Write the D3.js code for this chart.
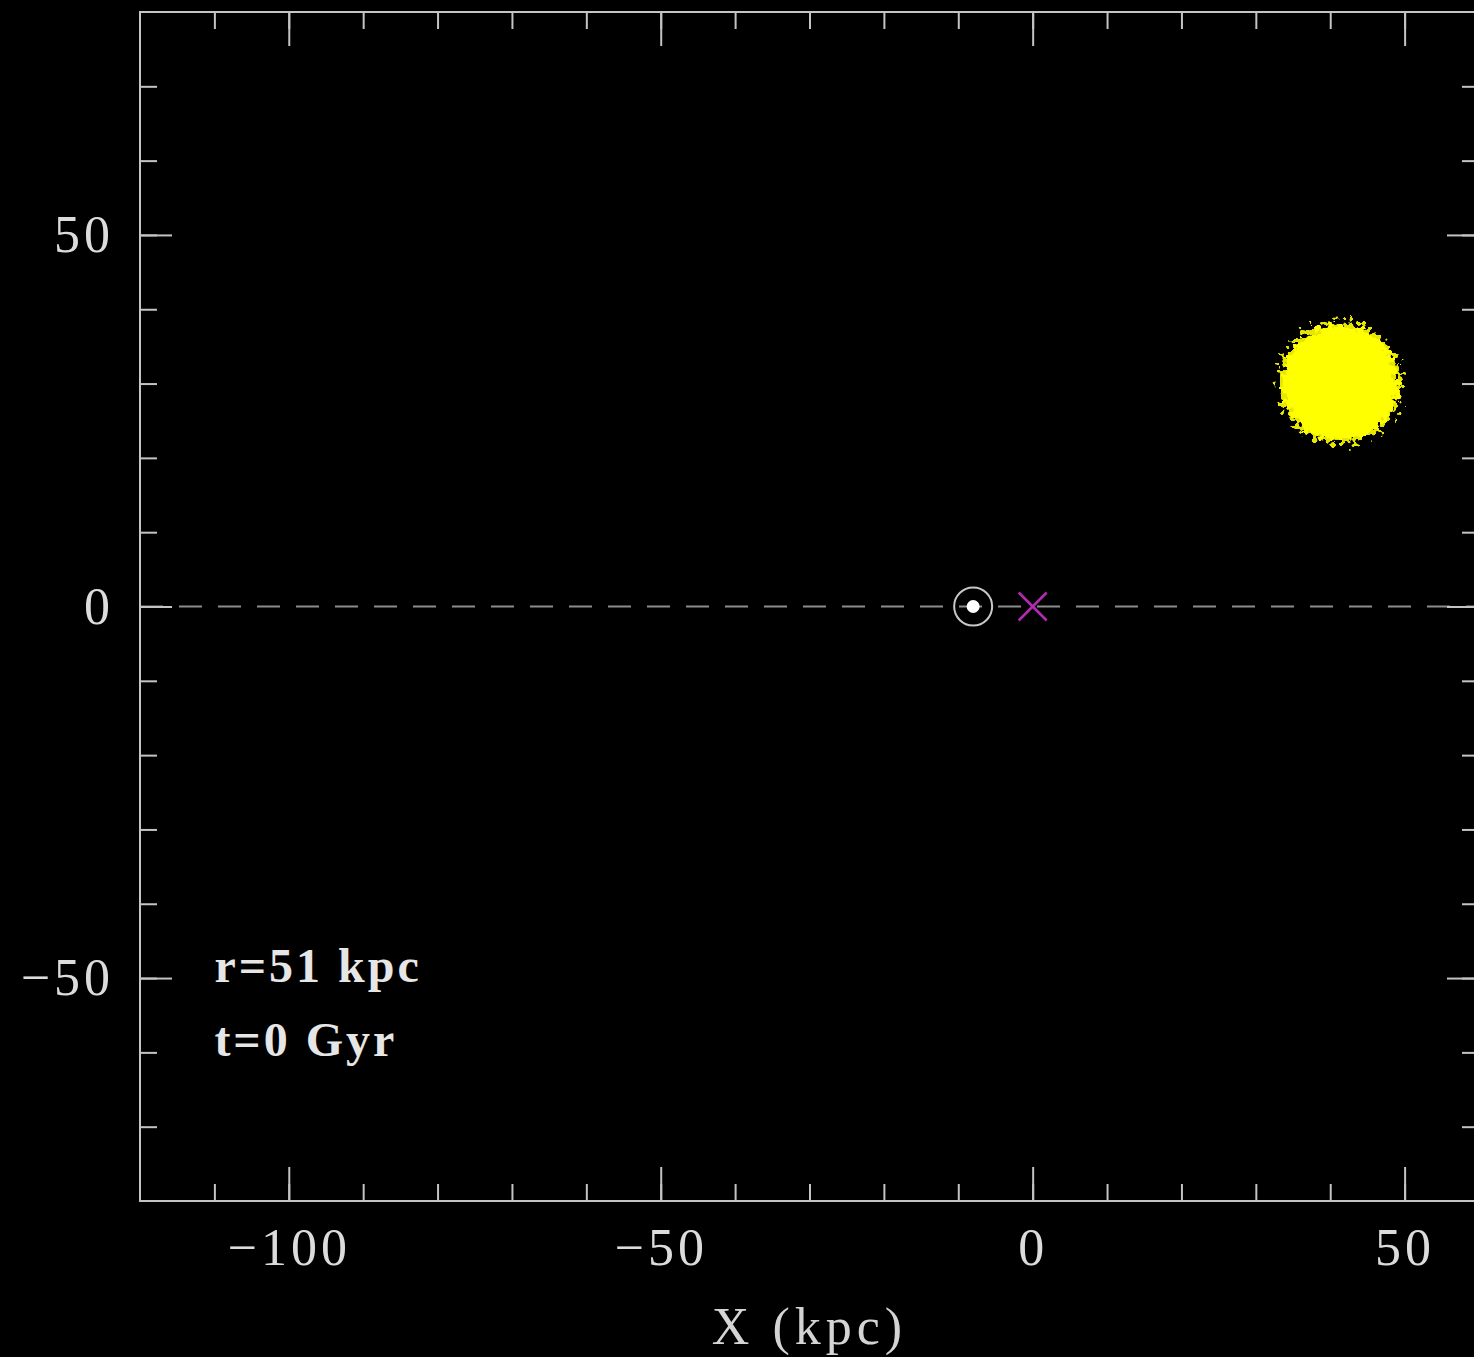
<!DOCTYPE html>
<html>
<head>
<meta charset="utf-8">
<script src="https://cdn.jsdelivr.net/npm/d3@7"></script>
<style>
  html, body { margin: 0; padding: 0; background: #000; }
  svg { display: block; }
  .axis text { font-family: "Liberation Serif", serif; font-size: 52px; fill: #dcdcdc; letter-spacing: 4px; }
  .axis line { stroke: #c4c4c4; stroke-width: 2px; }
  .axis path { display: none; }
</style>
</head>
<body>
<div class="graphContainer"></div>
<script>
// tick values (kpc)
var xMajor = [-100, -50, 0, 50];
var xMinor = [-110, -100, -90, -80, -70, -60, -50, -40, -30, -20, -10, 0, 10, 20, 30, 40, 50];
var yMajor = [-50, 0, 50];
var yMinor = [-70, -60, -50, -40, -30, -20, -10, 0, 10, 20, 30, 40, 50, 60, 70];

// objects in the plane
var sunPos = [-8, 0];
var centrePos = [0, 0];
var satellite = [41.3, 30.1];
var satelliteRadius = 7.7;

// annotation lines: x, y, text
var noteX = [-110, -110];
var noteY = [-50.5, -60.5];
var noteText = ["r=51 kpc", "t=0 Gyr"];

var xTitle = "X (kpc)";

// Set the dimensions of the canvas / graph
var W = 1474, H = 1357;
var margin = {top: 12, right: -5, bottom: 156, left: 140},
    width = W - margin.left - margin.right,
    height = H - margin.top - margin.bottom;

var x = d3.scaleLinear().domain([-120, 60]).range([0, width]);
var y = d3.scaleLinear().domain([-80, 80]).range([height, 0]);

var root = d3.select(".graphContainer")
    .append("svg")
        .attr("width", W)
        .attr("height", H);

root.append("rect").attr("width", W).attr("height", H).attr("fill", "#000");

// ragged edges for the particle cloud
var defs = root.append("defs");
var filt = defs.append("filter").attr("id", "fuzz")
    .attr("x", "-30%").attr("y", "-30%").attr("width", "160%").attr("height", "160%");
filt.append("feTurbulence").attr("type", "fractalNoise")
    .attr("baseFrequency", 0.16).attr("numOctaves", 2).attr("seed", 3).attr("result", "noise");
filt.append("feDisplacementMap").attr("in", "SourceGraphic").attr("in2", "noise")
    .attr("scale", 22).attr("xChannelSelector", "R").attr("yChannelSelector", "G");

var halo = defs.append("filter").attr("id", "halo")
    .attr("x", "-40%").attr("y", "-40%").attr("width", "180%").attr("height", "180%");
halo.append("feTurbulence").attr("type", "fractalNoise")
    .attr("baseFrequency", 0.22).attr("numOctaves", 1).attr("seed", 11).attr("result", "noise");
halo.append("feDisplacementMap").attr("in", "SourceGraphic").attr("in2", "noise")
    .attr("scale", 34).attr("xChannelSelector", "R").attr("yChannelSelector", "G");

var svg = root.append("g")
    .attr("transform", "translate(" + margin.left + "," + margin.top + ")");

// dashed line along y = 0
svg.append("line")
    .attr("x1", x(-120)).attr("x2", x(60))
    .attr("y1", y(0)).attr("y2", y(0))
    .attr("stroke", "#8c8c8c")
    .attr("stroke-width", 2)
    .attr("stroke-dasharray", "23,16");

// axes: minor ticks, then major ticks with labels
var fmt = d3.format("d");

svg.append("g").attr("class", "x axis")
    .attr("transform", "translate(0," + height + ")")
    .call(d3.axisBottom(x).tickValues(xMinor).tickSize(-17).tickSizeOuter(0).tickFormat(""));
svg.append("g").attr("class", "x axis")
    .attr("transform", "translate(0," + height + ")")
    .call(d3.axisBottom(x).tickValues(xMajor).tickSize(-34).tickSizeOuter(0).tickPadding(27).tickFormat(fmt));
svg.append("g").attr("class", "x axis")
    .call(d3.axisTop(x).tickValues(xMinor).tickSize(-17).tickSizeOuter(0).tickFormat(""));
svg.append("g").attr("class", "x axis")
    .call(d3.axisTop(x).tickValues(xMajor).tickSize(-34).tickSizeOuter(0).tickFormat(""));

svg.append("g").attr("class", "y axis")
    .call(d3.axisLeft(y).tickValues(yMinor).tickSize(-17).tickSizeOuter(0).tickFormat(""));
svg.append("g").attr("class", "y axis")
    .call(d3.axisLeft(y).tickValues(yMajor).tickSize(-32).tickSizeOuter(0).tickPadding(26).tickFormat(fmt));
svg.append("g").attr("class", "y axis")
    .attr("transform", "translate(" + width + ",0)")
    .call(d3.axisRight(y).tickValues(yMinor).tickSize(-17).tickSizeOuter(0).tickFormat(""));
svg.append("g").attr("class", "y axis")
    .attr("transform", "translate(" + width + ",0)")
    .call(d3.axisRight(y).tickValues(yMajor).tickSize(-32).tickSizeOuter(0).tickFormat(""));

// frame
svg.append("rect")
    .attr("x", x(-120)).attr("y", y(80))
    .attr("width", x(60) - x(-120)).attr("height", y(-80) - y(80))
    .attr("fill", "none")
    .attr("stroke", "#c4c4c4")
    .attr("stroke-width", 2);

// particle cloud: speckled halo, then the dense core
var rPix = x(satelliteRadius) - x(0);
svg.append("circle")
    .attr("cx", x(satellite[0])).attr("cy", y(satellite[1]))
    .attr("r", rPix + 3)
    .attr("fill", "#e6e600")
    .attr("filter", "url(#halo)");
svg.append("circle")
    .attr("cx", x(satellite[0])).attr("cy", y(satellite[1]))
    .attr("r", rPix)
    .attr("fill", "#ffff00")
    .attr("filter", "url(#fuzz)");

// sun symbol
svg.append("circle")
    .attr("cx", x(sunPos[0])).attr("cy", y(sunPos[1]))
    .attr("r", 19)
    .attr("fill", "none").attr("stroke", "#c8c8c8").attr("stroke-width", 2);
svg.append("circle")
    .attr("cx", x(sunPos[0])).attr("cy", y(sunPos[1]))
    .attr("r", 6.5)
    .attr("fill", "#ffffff");

// galactic centre cross
var cx = x(centrePos[0]), cy = y(centrePos[1]), a = 14;
svg.append("path")
    .attr("d", "M" + (cx - a) + "," + (cy - a) + "L" + (cx + a) + "," + (cy + a) +
               "M" + (cx - a) + "," + (cy + a) + "L" + (cx + a) + "," + (cy - a))
    .attr("stroke", "#b22ab2").attr("stroke-width", 2.5);

// annotations
svg.selectAll(".note")
    .data(noteText)
  .enter().append("text")
    .attr("class", "note")
    .attr("x", function(d, i) { return x(noteX[i]); })
    .attr("y", function(d, i) { return y(noteY[i]); })
    .attr("font-family", "Liberation Serif, serif")
    .attr("font-weight", "bold")
    .attr("font-size", 48)
    .attr("letter-spacing", 3)
    .attr("fill", "#e6e6e6")
    .text(function(d) { return d; });

// x axis title
svg.append("text")
    .attr("x", (x(-120) + x(60)) / 2)
    .attr("y", height + 143)
    .attr("text-anchor", "middle")
    .attr("font-family", "Liberation Serif, serif")
    .attr("font-size", 52)
    .attr("letter-spacing", 5)
    .attr("fill", "#d4d4d4")
    .text(xTitle);
</script>
</body>
</html>
